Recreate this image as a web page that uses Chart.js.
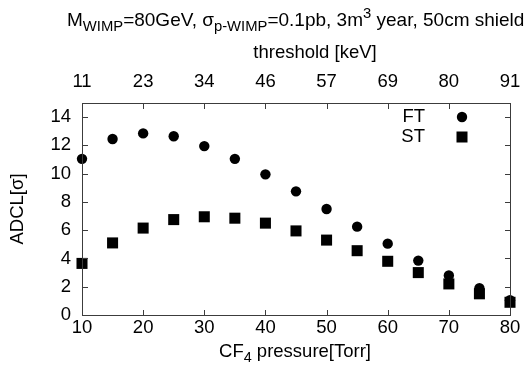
<!DOCTYPE html>
<html>
<head>
<meta charset="utf-8">
<script src="https://cdn.jsdelivr.net/npm/chart.js@4.4.1/dist/chart.umd.min.js"></script>
<style>
  html, body { margin: 0; padding: 0; background: #fff; }
</style>
</head>
<body>
<canvas id="adclChart" width="525" height="375"></canvas>
<script>
// CF4 pressure [Torr] on the bottom axis
var pressure = [10, 15, 20, 25, 30, 35, 40, 45, 50, 55, 60, 65, 70, 75, 80];
// ADCL values for FT and ST
var ftValues = [11.05, 12.45, 12.85, 12.65, 11.95, 11.05, 9.95, 8.75, 7.5, 6.25, 5.05, 3.85, 2.8, 1.9, 1.05];
var stValues = [3.65, 5.1, 6.15, 6.75, 6.95, 6.85, 6.5, 5.95, 5.3, 4.55, 3.8, 3.0, 2.2, 1.5, 0.9];
// top axis: threshold [keV] at each 10 Torr step
var pressureTicks = [10, 20, 30, 40, 50, 60, 70, 80];
var thresholdLabels = ['11', '23', '34', '46', '57', '69', '80', '91'];
var adclTicks = [0, 2, 4, 6, 8, 10, 12, 14];

var FONT = '"Liberation Sans", Arial, Helvetica, sans-serif';
var AXIS_COLOR = '#3c3c3c';
var AXIS_FONT = 18.5;

function toPoints(xs, ys) {
    return xs.map(function (x, i) { return { x: x, y: ys[i] }; });
}

// draws text made of parts, some of them sub- or superscript
function drawRich(ctx, parts, x, y, size, align) {
    var subSize = size * 0.78;
    var total = 0;
    parts.forEach(function (p) {
        ctx.font = ((p.sub || p.sup) ? subSize : size) + 'px ' + FONT;
        p.w = ctx.measureText(p.t).width;
        total += p.w;
    });
    var cx = align === 'center' ? x - total / 2 : x;
    ctx.textAlign = 'left';
    ctx.textBaseline = 'alphabetic';
    parts.forEach(function (p) {
        ctx.font = ((p.sub || p.sup) ? subSize : size) + 'px ' + FONT;
        var dy = p.sub ? size * 0.28 : (p.sup ? -size * 0.42 : 0);
        ctx.fillText(p.t, cx, y + dy);
        cx += p.w;
    });
}

const decorPlugin = {
    id: 'decor',
    afterDraw(chart) {
        var ctx = chart.ctx;
        var a = chart.chartArea;
        var sx = chart.scales.x, sx2 = chart.scales.x2, sy = chart.scales.y;
        ctx.save();
        ctx.fillStyle = AXIS_COLOR;
        var L = Math.round(a.left), R = Math.round(a.right);
        var T = Math.round(a.top), B = Math.round(a.bottom);
        // frame
        ctx.fillRect(L, T, R - L + 1, 1);
        ctx.fillRect(L, B, R - L + 1, 1);
        ctx.fillRect(L, T, 1, B - T + 1);
        ctx.fillRect(R, T, 1, B - T + 1);
        // inward ticks on all four sides
        var tl = 5;
        sx.ticks.forEach(function (t) {
            ctx.fillRect(Math.round(sx.getPixelForValue(t.value)), B - tl, 1, tl);
        });
        sx2.ticks.forEach(function (t) {
            ctx.fillRect(Math.round(sx2.getPixelForValue(t.value)), T + 1, 1, tl);
        });
        sy.ticks.forEach(function (t) {
            var py = Math.round(sy.getPixelForValue(t.value));
            ctx.fillRect(L + 1, py, tl, 1);
            ctx.fillRect(R - tl, py, tl, 1);
        });

        ctx.fillStyle = '#000';
        // main title
        drawRich(ctx, [
            { t: 'M' }, { t: 'WIMP', sub: true },
            { t: '=80GeV, \u03c3' }, { t: 'p-WIMP', sub: true },
            { t: '=0.1pb, 3m' }, { t: '3', sup: true },
            { t: ' year, 50cm shield' }
        ], 67, 26, 19, 'left');
        // top axis title
        drawRich(ctx, [{ t: 'threshold [keV]' }], 315, 58, AXIS_FONT, 'center');
        // bottom axis title
        drawRich(ctx, [{ t: 'CF' }, { t: '4', sub: true }, { t: ' pressure[Torr]' }], 295, 357, AXIS_FONT, 'center');

        // legend
        ctx.font = AXIS_FONT + 'px ' + FONT;
        ctx.textAlign = 'right';
        ctx.textBaseline = 'middle';
        ctx.fillText('FT', 425, 117);
        ctx.fillText('ST', 425, 137);
        ctx.beginPath();
        ctx.arc(462, 117, 5.2, 0, Math.PI * 2);
        ctx.fill();
        ctx.fillRect(462 - 5.5, 137 - 5.5, 11, 11);
        ctx.restore();
    }
};

function fixedTicks(values) {
    return function (s) { s.ticks = values.map(function (v) { return { value: v }; }); };
}

var ctx = document.getElementById('adclChart').getContext('2d');
const chartConfig = {
    type: 'scatter',
    data: {
        datasets: [{
            label: 'FT',
            data: toPoints(pressure, ftValues),
            pointStyle: 'circle',
            pointRadius: 5.2,
            pointHoverRadius: 5.2,
            backgroundColor: '#000',
            borderColor: '#000',
            borderWidth: 0,
            clip: false
        }, {
            label: 'ST',
            data: toPoints(pressure, stValues),
            pointStyle: 'rect',
            pointRadius: 7.8,
            pointHoverRadius: 7.8,
            backgroundColor: '#000',
            borderColor: '#000',
            borderWidth: 0,
            clip: false
        }]
    },
    options: {
        responsive: false,
        animation: false,
        devicePixelRatio: 1,
        layout: { padding: { top: 0, left: 0, right: 15, bottom: 0 } },
        plugins: {
            legend: { display: false },
            title: { display: false },
            tooltip: { enabled: false }
        },
        scales: {
            x: {
                type: 'linear',
                position: 'bottom',
                min: 10, max: 80,
                afterBuildTicks: fixedTicks(pressureTicks),
                afterFit: function (s) { s.height = 60; s.paddingLeft = 0; s.paddingRight = 0; },
                grid: { display: false, drawTicks: false },
                border: { display: false },
                ticks: { color: '#000', font: { family: FONT, size: AXIS_FONT }, padding: 2, maxRotation: 0 }
            },
            x2: {
                type: 'linear',
                position: 'top',
                min: 10, max: 80,
                afterBuildTicks: fixedTicks(pressureTicks),
                afterFit: function (s) { s.height = 103; s.paddingLeft = 0; s.paddingRight = 0; },
                grid: { display: false, drawTicks: false },
                border: { display: false },
                ticks: {
                    color: '#000', font: { family: FONT, size: AXIS_FONT }, padding: 10, maxRotation: 0,
                    callback: function (v, i) { return thresholdLabels[i]; }
                }
            },
            y: {
                type: 'linear',
                position: 'left',
                min: 0, max: 15,
                afterBuildTicks: fixedTicks(adclTicks),
                afterFit: function (s) { s.width = 82; },
                grid: { display: false, drawTicks: false },
                border: { display: false },
                title: {
                    display: true, text: 'ADCL[\u03c3]', color: '#000',
                    font: { family: FONT, size: AXIS_FONT }, padding: { top: 7, bottom: 0 }
                },
                ticks: { color: '#000', font: { family: FONT, size: AXIS_FONT }, padding: 11 }
            }
        }
    },
    plugins: [decorPlugin]
};
var adclChart = new Chart(ctx, chartConfig);
</script>
</body>
</html>
